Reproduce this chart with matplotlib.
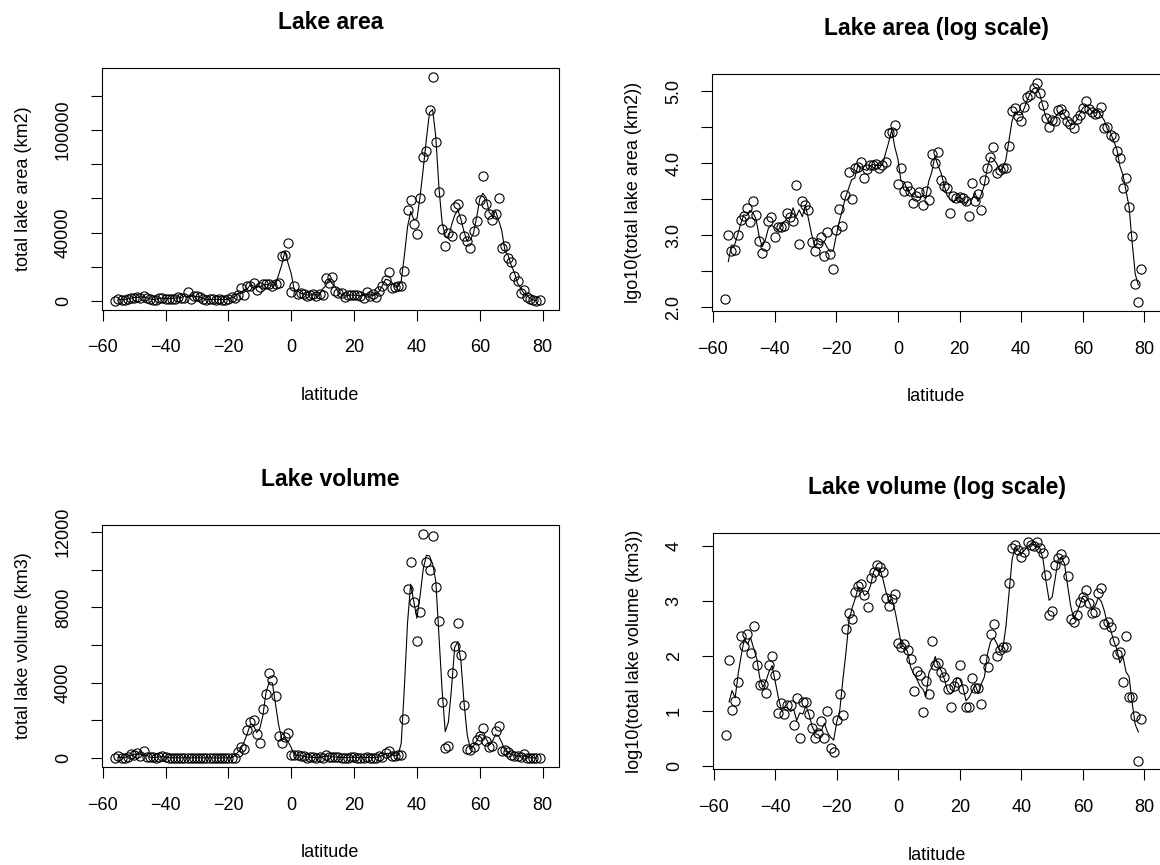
import numpy as np
import pandas as pd
import matplotlib
matplotlib.use("Agg")
import matplotlib.pyplot as plt

# ====================== DATA =============================================== #

# one value per degree of latitude, -56 .. 79
latitude = np.arange(-56, 80)

area_km2 = [
    129, 1020, 600, 630, 1000, 1620, 1820, 2400, 1510, 2950,        # -56 .. -47
    1900, 830, 560, 710, 1550, 1780, 930, 1290, 1290, 1320,         # -46 .. -37
    2040, 1780, 1550, 5010, 760, 2950, 2630, 2240, 810, 600,        # -36 .. -27
    780, 950, 520, 1120, 550, 340, 1180, 2340, 1350, 3630,          # -26 .. -17
    7590, 3160, 8510, 8910, 10470, 6310, 8320, 9550, 9550, 9770,    # -16 .. -7
    8510, 9550, 10230, 26300, 26900, 33900, 5130, 8710, 4070, 4790, # -6 .. 3
    4070, 2820, 3470, 3980, 2630, 4170, 3090, 13500, 10200, 14200,  # 4 .. 13
    5750, 4790, 4470, 2040, 3470, 3240, 3390, 3310, 2950, 1860,     # 14 .. 23
    5370, 3020, 3720, 2240, 5890, 8710, 12000, 17000, 7410, 7940,   # 24 .. 33
    8710, 8710, 17500, 53000, 59000, 45000, 39000, 60000, 84000, 88000,   # 34 .. 43
    112000, 131000, 93000, 64000, 42000, 32000, 40000, 38000, 55000, 57000,  # 44 .. 53
    48000, 38000, 35000, 31000, 41000, 47000, 59000, 73000, 57000, 51000,  # 54 .. 63
    47500, 50600, 60000, 31000, 32000, 25000, 23000, 14700, 11800, 4500,   # 64 .. 73
    6300, 2500, 980, 210, 117, 340,                                 # 74 .. 79
]

volume_km3 = [
    3.6, 83, 10.5, 15, 33, 229, 155, 251, 112, 355,                 # -56 .. -47
    68, 30, 31, 21, 68, 98, 45, 9.3, 14, 8.9,                       # -46 .. -37
    13, 13, 5.6, 17, 3.2, 14.5, 14.8, 8.9, 5.0, 3.3,                # -36 .. -27
    4.0, 6.5, 3.3, 10, 2.1, 1.8, 6.9, 20, 8.3, 309,                 # -26 .. -17
    603, 468, 1480, 1905, 2000, 1290, 776, 2630, 3400, 4500,        # -16 .. -7
    4160, 3300, 1150, 813, 1100, 1350, 170, 148, 162, 126,          # -6 .. 3
    87, 23, 54, 46, 9.5, 35, 20, 186, 68, 74,                       # 4 .. 13
    51, 42, 25, 12, 29, 33, 68, 25, 12, 12,                         # 14 .. 23
    39, 26, 26, 13.5, 87, 63, 251, 389, 100, 126,                   # 24 .. 33
    145, 145, 2090, 9000, 10400, 8300, 6200, 7770, 11900, 10400,    # 34 .. 43
    10000, 11800, 9100, 7300, 3000, 550, 660, 4500, 5950, 7150,     # 44 .. 53
    5450, 2800, 468, 417, 562, 977, 1175, 1585, 912, 603,           # 54 .. 63
    631, 1413, 1698, 380, 417, 339, 186, 107, 120, 33,              # 64 .. 73
    229, 18, 18, 8.1, 1.26, 7.1,                                    # 74 .. 79
]

log_area = np.log10(area_km2)
log_volume = np.log10(volume_km3)

# ========================== FIGURE SETUP =================================== #

plt.rcParams['font.family'] = ['Liberation Sans', 'DejaVu Sans']

W, H = 1160, 865
fig = plt.figure(figsize=(W / 100, H / 100), dpi=100)


def px_box(left, top, right, bottom):
    # axes rectangle given in pixels of the reference picture
    return [left / W, 1 - bottom / H, (right - left) / W, (bottom - top) / H]


panels = [
    # title, ylabel, values, yticks, labelled yticks, box
    ("Lake area", "total lake area (km2)", area_km2,
     [0, 20000, 40000, 60000, 80000, 100000, 120000], [0, 40000, 100000],
     px_box(101.7, 68.3, 559, 309.5)),
    ("Lake area (log scale)", "lgo10(total lake area (km2))", log_area,
     [2.0, 2.5, 3.0, 3.5, 4.0, 4.5, 5.0], [2.0, 3.0, 4.0, 5.0],
     px_box(712, 74, 1160.5, 311)),
    ("Lake volume", "total lake volume (km3)", volume_km3,
     [0, 2000, 4000, 6000, 8000, 10000, 12000], [0, 4000, 8000, 12000],
     px_box(101.7, 525, 559, 767)),
    ("Lake volume (log scale)", "log10(total lake volume (km3))", log_volume,
     [0, 1, 2, 3, 4], [0, 1, 2, 3, 4],
     px_box(712.7, 533, 1160.5, 769.3)),
]

for title, ylab, vals, yticks, shown, box in panels:
    ax = fig.add_axes(box)
    vals = pd.Series(np.asarray(vals, dtype=float))
    smooth = vals.rolling(3, center=True).mean()

    ax.plot(latitude, vals, 'o', mfc='none', mec='black', ms=6.6, mew=0.8)
    ax.plot(latitude, smooth, '-', color='black', lw=0.8)

    ax.set_xlim(-60.3, 85.2)
    ax.margins(y=0.04)
    ax.set_xticks([-60, -40, -20, 0, 20, 40, 60, 80])
    ax.set_yticks(yticks)
    labels = []
    for t in yticks:
        if t in shown:
            labels.append(f"{t:.1f}" if isinstance(t, float) else str(t))
        else:
            labels.append("")
    ax.set_yticklabels(labels)
    plt.setp(ax.get_yticklabels(), rotation=90, va='center', ha='right')

    ax.tick_params(direction='out', length=8, width=0.8, pad=13.5,
                   labelsize=13, colors='black')
    for sp in ax.spines.values():
        sp.set_linewidth(0.8)
        sp.set_color('black')

    ax.set_title(title, fontsize=16.5, fontweight='bold', pad=28)
    ax.set_xlabel('latitude', fontsize=13, labelpad=22)
    ax.set_ylabel(ylab, fontsize=13, labelpad=16.5)

fig.savefig('out.png', dpi=100)
